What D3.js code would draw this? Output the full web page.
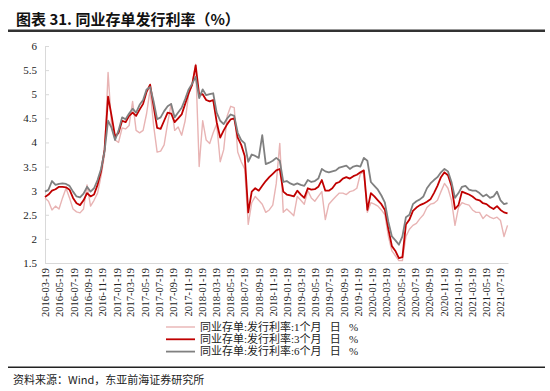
<!DOCTYPE html>
<html>
<head>
<meta charset="utf-8">
<script src="https://cdn.jsdelivr.net/npm/d3@7"></script>
<style>
  body { margin: 0; background: #fff; }
  svg { display: block; }
</style>
</head>
<body>
<svg id="chart" width="550" height="391"></svg>
<script>
// data sampled every 15 days starting 2016-03-19
const startDate = new Date(2016, 2, 19);
const stepDays = 15;

const tickLabels = [
  '2016-03-19', '2016-05-19', '2016-07-19', '2016-09-19', '2016-11-19',
  '2017-01-19', '2017-03-19', '2017-05-19', '2017-07-19', '2017-09-19', '2017-11-19',
  '2018-01-19', '2018-03-19', '2018-05-19', '2018-07-19', '2018-09-19', '2018-11-19',
  '2019-01-19', '2019-03-19', '2019-05-19', '2019-07-19', '2019-09-19', '2019-11-19',
  '2020-01-19', '2020-03-19', '2020-05-19', '2020-07-19', '2020-09-19', '2020-11-19',
  '2021-01-19', '2021-03-19', '2021-05-19', '2021-07-19',
];

const yTicks = [1.5, 2, 2.5, 3, 3.5, 4, 4.5, 5, 5.5, 6];

const seriesNames = [
  '同业存单:发行利率:1个月   日   %',
  '同业存单:发行利率:3个月   日   %',
  '同业存单:发行利率:6个月   日   %',
];

const rate1m = [
  2.85, 2.78, 2.60, 2.68, 2.62, 2.85, 3.05, 2.85, 2.62, 2.56, 2.54, 2.62,
  3.12, 2.68, 2.80, 2.95, 3.30, 3.75, 5.45, 4.35, 4.05, 4.00, 4.30, 4.28,
  4.35, 4.85, 4.25, 4.20, 4.25, 4.60, 5.10, 4.35, 3.80, 3.82, 3.95, 4.40,
  4.80, 4.25, 4.32, 4.15, 4.45, 5.00, 5.20, 5.62, 3.50, 4.45, 4.05, 3.98,
  4.20, 4.38, 3.60, 3.85, 4.55, 4.75, 4.72, 3.80, 3.60, 3.45, 2.30, 2.75,
  2.88, 2.80, 2.72, 2.55, 2.60, 2.70, 3.15, 3.98, 2.55, 2.62, 2.55, 2.48,
  2.88, 2.80, 2.72, 3.00, 2.85, 2.78, 2.88, 2.98, 2.40, 2.72, 2.80, 2.88,
  2.95, 2.95, 2.92, 2.98, 3.00, 3.05, 3.35, 3.38, 2.55, 2.75, 2.72, 2.68,
  2.60, 2.50, 2.05, 1.75, 1.65, 1.55, 1.55, 2.05, 2.20, 2.28, 2.32, 2.42,
  2.50, 2.65, 2.72, 2.74, 2.80, 2.98, 3.15, 3.05, 2.80, 2.28, 2.65, 2.75,
  2.72, 2.70, 2.60, 2.55, 2.55, 2.42, 2.50, 2.45, 2.42, 2.45, 2.38, 2.05,
  2.28,
];

const rate3m = [
  2.87, 2.92, 3.00, 3.03, 3.08, 3.08, 3.07, 3.02, 2.85, 2.74, 2.70, 2.80,
  2.95, 2.88, 2.92, 3.12, 3.40, 3.85, 4.95, 4.55, 4.12, 4.20, 4.45, 4.42,
  4.55, 4.62, 4.55, 4.68, 4.80, 5.05, 5.20, 4.75, 4.30, 4.28, 4.45, 4.62,
  4.60, 4.42, 4.50, 4.58, 4.80, 5.02, 5.20, 5.60, 4.98, 5.00, 4.88, 4.85,
  4.88, 4.42, 4.10, 4.25, 4.38, 4.48, 4.50, 4.10, 3.95, 3.72, 2.55, 2.98,
  3.05, 3.00, 3.10, 3.20, 3.28, 3.35, 3.42, 3.45, 2.98, 2.92, 2.90, 2.88,
  3.00, 2.92, 2.85, 3.05, 3.02, 3.03, 3.08, 3.22, 3.00, 3.00, 3.05, 3.15,
  3.18, 3.25, 3.28, 3.25, 3.30, 3.33, 3.38, 3.42, 2.60, 2.95, 2.88, 2.80,
  2.72, 2.60, 2.20, 1.85, 1.75, 1.60, 1.62, 2.30, 2.40, 2.58, 2.65, 2.70,
  2.73, 2.77, 2.82, 2.95, 3.10, 3.28, 3.38, 3.32, 3.10, 2.62, 2.70, 2.98,
  2.95, 2.92, 2.88, 2.82, 2.80, 2.74, 2.72, 2.66, 2.62, 2.68, 2.60, 2.55,
  2.53,
];

const rate6m = [
  2.98, 3.02, 3.20, 3.12, 3.14, 3.15, 3.14, 3.10, 2.98, 2.88, 2.86, 2.94,
  3.08, 2.98, 3.05, 3.22, 3.45, 3.82, 4.45, 4.30, 4.05, 4.25, 4.52, 4.48,
  4.60, 4.70, 4.62, 4.78, 4.88, 5.10, 5.15, 4.85, 4.48, 4.52, 4.65, 4.75,
  4.80, 4.52, 4.62, 4.72, 4.90, 5.10, 5.22, 5.36, 4.92, 5.10, 4.98, 5.00,
  5.02, 4.62, 4.45, 4.38, 4.50, 4.58, 4.55, 4.20, 4.05, 3.98, 3.60, 3.75,
  3.72, 3.68, 4.15, 3.55, 3.58, 3.62, 3.68, 3.62, 3.18, 3.20, 3.15, 3.12,
  3.15, 3.12, 3.10, 3.22, 3.18, 3.20, 3.25, 3.45, 3.40, 3.38, 3.40, 3.42,
  3.48, 3.50, 3.52, 3.45, 3.50, 3.52, 3.50, 3.68, 3.62, 3.18, 3.10, 3.02,
  2.90, 2.75, 2.35, 2.05, 1.97, 1.88, 2.05, 2.45, 2.50, 2.72, 2.78, 2.82,
  2.88, 3.05, 3.15, 3.22, 3.28, 3.38, 3.45, 3.40, 3.18, 2.85, 2.95, 3.08,
  3.10, 3.02, 3.00, 3.00, 2.95, 2.88, 2.92, 2.85, 2.88, 2.98, 2.80, 2.72,
  2.74,
];

const colors = ['#e8b4b4', '#c00000', '#808080'];
const widths = [1.4, 1.8, 1.8];

const svg = d3.select('#chart');
const margin = { left: 45, right: 42, top: 46, bottom: 128 };
const W = 550;
const H = 391;

const dates = rate1m.map((_, i) => d3.timeDay.offset(startDate, i * stepDays));
const parse = d3.timeParse('%Y-%m-%d');

const x = d3.scaleTime()
  .domain([startDate, d3.timeDay.offset(startDate, 1982)])
  .range([margin.left, W - margin.right]);
const y = d3.scaleLinear()
  .domain([1.5, 6])
  .range([H - margin.bottom, margin.top]);

// title
svg.append('text')
  .attr('x', 16)
  .attr('y', 25)
  .attr('font-family', '"Noto Sans CJK SC", sans-serif')
  .attr('font-size', 15)
  .attr('font-weight', 'bold')
  .attr('fill', '#111')
  .text('图表 31. 同业存单发行利率（%）');

svg.append('rect')
  .attr('x', 8).attr('y', 29.5)
  .attr('width', 537).attr('height', 2.5)
  .attr('fill', '#333');

// y axis
const yAxis = svg.append('g')
  .attr('transform', `translate(${margin.left},0)`)
  .call(d3.axisLeft(y).tickValues(yTicks).tickFormat((d) => `${d}`)
    .tickSizeInner(-4).tickSizeOuter(0).tickPadding(8));
yAxis.select('.domain').attr('stroke', '#d9d9d9');
yAxis.selectAll('.tick line').attr('stroke', '#d9d9d9');
yAxis.selectAll('text')
  .attr('font-family', '"Liberation Serif", serif')
  .attr('font-size', 11)
  .attr('fill', '#222');

// x axis
const xAxis = svg.append('g')
  .attr('transform', `translate(0,${H - margin.bottom})`)
  .call(d3.axisBottom(x).tickValues(tickLabels.map(parse))
    .tickFormat(d3.timeFormat('%Y-%m-%d')).tickSize(0).tickSizeOuter(0));
xAxis.select('.domain').attr('stroke', '#d9d9d9');
xAxis.selectAll('text')
  .attr('transform', 'rotate(-90)')
  .attr('text-anchor', 'end')
  .attr('x', -5)
  .attr('y', 0)
  .attr('dy', '0.35em')
  .attr('font-family', '"Liberation Serif", serif')
  .attr('font-size', 10.5)
  .attr('fill', '#222');

// series
const line = d3.line()
  .x((d) => x(d[0]))
  .y((d) => y(d[1]));

[rate1m, rate3m, rate6m].forEach((vals, k) => {
  svg.append('path')
    .datum(vals.map((v, i) => [dates[i], v]))
    .attr('fill', 'none')
    .attr('stroke', colors[k])
    .attr('stroke-width', widths[k])
    .attr('stroke-linejoin', 'round')
    .attr('d', line);
});

// legend
const legend = svg.append('g')
  .selectAll('g')
  .data(seriesNames)
  .join('g')
  .attr('transform', (d, i) => `translate(166,${327 + i * 12.3})`);

legend.append('line')
  .attr('x1', 0).attr('x2', 29)
  .attr('stroke', (d, i) => colors[i])
  .attr('stroke-width', (d, i) => widths[i]);

legend.append('text')
  .attr('x', 34)
  .attr('dy', '0.35em')
  .attr('font-family', '"Liberation Serif", "Noto Sans CJK SC", serif')
  .attr('font-size', 11)
  .attr('fill', '#222')
  .style('white-space', 'pre')
  .text((d) => d);

// footer
svg.append('rect')
  .attr('x', 8).attr('y', 366.5)
  .attr('width', 537).attr('height', 1.5)
  .attr('fill', '#222');

svg.append('text')
  .attr('x', 13)
  .attr('y', 384)
  .attr('font-family', '"Noto Sans CJK SC", sans-serif')
  .attr('font-size', 11)
  .attr('fill', '#222')
  .text('资料来源：Wind，东亚前海证券研究所');
</script>
</body>
</html>
